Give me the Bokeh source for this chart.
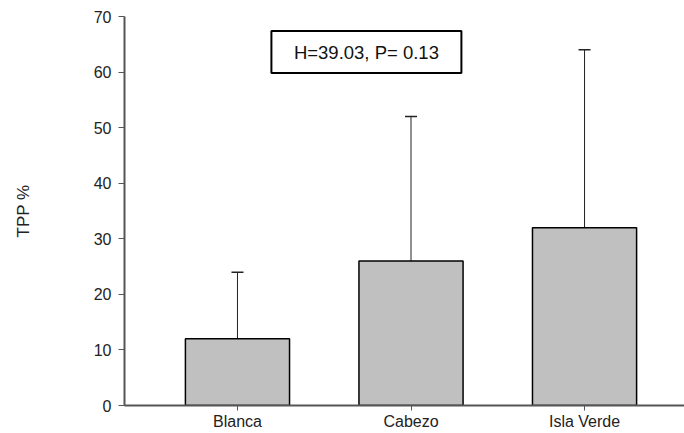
from bokeh.plotting import figure
from bokeh.models import ColumnDataSource, Whisker, TeeHead, FixedTicker
from bokeh.core.properties import value
from bokeh.embed import file_html
from bokeh.resources import INLINE

categories = ["Blanca", "Cabezo", "Isla Verde"]
means = [12, 26, 32]
errors = [12, 26, 32]
y_ticks = [0, 10, 20, 30, 40, 50, 60, 70]
annotation = "H=39.03, P= 0.13"
y_label = "TPP %"

FONT = "Liberation Sans"

xs = list(range(1, len(categories) + 1))
src = ColumnDataSource(dict(
    x=xs, top=means, upper=[m + e for m, e in zip(means, errors)], lower=means,
))

p = figure(width=684, height=433, output_backend="svg", toolbar_location=None,
           x_range=(0.349, 3.576), y_range=(0, 70),
           min_border_left=124, min_border_right=0, min_border_top=16,
           min_border_bottom=28)
p.outline_line_color = None
p.grid.grid_line_color = None
p.background_fill_color = "white"
p.border_fill_color = "white"

p.vbar(x="x", top="top", width=0.6, bottom=0, source=src,
       fill_color="#c0c0c0", line_color="black", line_width=1.5)

w = Whisker(base="x", upper="upper", lower="lower", source=src,
            line_color="#222222", line_width=1,
            upper_head=TeeHead(size=12, line_color="#222222", line_width=1.5),
            lower_head=None)
p.add_layout(w)

# annotation box
p.rect(x=[1.743], y=[63.6], width=190, height=42, width_units="screen",
       height_units="screen", fill_color="white", line_color="black", line_width=2)
p.text(x=[1.743], y=[63.6], text=[annotation], text_align="center",
       text_baseline="middle", text_font=value(FONT), text_font_size="18.5px",
       text_color="#111111")

# axes
p.xaxis.ticker = FixedTicker(ticks=xs)
p.xaxis.major_label_overrides = {x: c for x, c in zip(xs, categories)}
p.yaxis.ticker = FixedTicker(ticks=y_ticks)
for ax in (p.xaxis, p.yaxis):
    ax.axis_line_color = "#555555"
    ax.axis_line_width = 2
    ax.major_tick_line_color = "#555555"
    ax.major_tick_line_width = 1
    ax.major_tick_in = 0
    ax.major_tick_out = 6
    ax.minor_tick_line_color = None
    ax.major_label_text_font = FONT
    ax.major_label_text_font_size = "16px"
    ax.major_label_text_color = "#222222"
p.xaxis.major_tick_out = 5
p.xaxis.major_label_standoff = 2
p.yaxis.major_label_standoff = 7
p.yaxis.axis_label = y_label
p.yaxis.axis_label_text_font = FONT
p.yaxis.axis_label_text_font_size = "17px"
p.yaxis.axis_label_text_font_style = "normal"
p.yaxis.axis_label_text_color = "#222222"
p.yaxis.axis_label_standoff = 58

open("out.html", "w").write(file_html(p, INLINE))
